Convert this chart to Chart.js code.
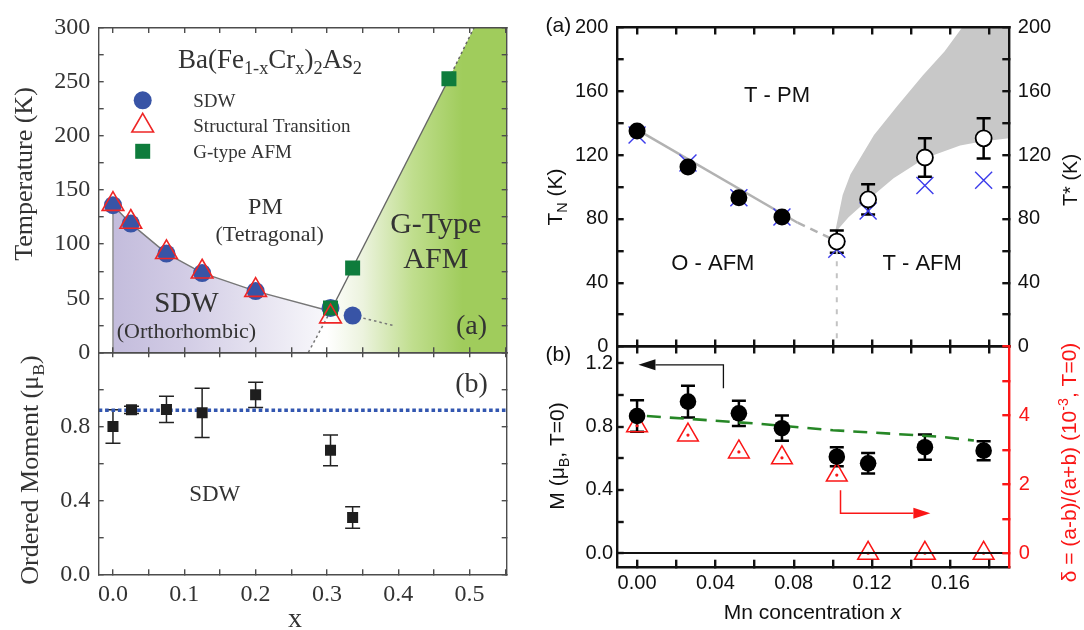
<!DOCTYPE html>
<html>
<head>
<meta charset="utf-8">
<title>Phase diagrams</title>
<script src="https://cdn.jsdelivr.net/npm/chart.js@4.4.0/dist/chart.umd.min.js"></script>
<style>
  html, body { margin: 0; padding: 0; background: #fff; }
  #fig { position: relative; width: 1084px; height: 630px; overflow: hidden; background: #fff; }
  #fig canvas { position: absolute; left: 0; top: 0; }
</style>
</head>
<body>
<div id="fig">
  <canvas id="crPhase" width="1084" height="630"></canvas>
  <canvas id="crMoment" width="1084" height="630"></canvas>
  <canvas id="mnPhase" width="1084" height="630"></canvas>
  <canvas id="mnMoment" width="1084" height="630"></canvas>
</div>
<script>
// ---- Ba(Fe1-xCrx)2As2 (left column) ----
const crRange    = [-0.02, 0.552];
const crX        = [0, 0.025, 0.075, 0.125, 0.2, 0.305, 0.336];
const crSdwT     = [136, 119, 91.3, 73.3, 56.6, 41, 34];
const crStructX  = [0, 0.025, 0.075, 0.125, 0.2, 0.305];
const crStructT  = [137, 120.5, 92.5, 74.5, 57.5, 33];
const crGafmX    = [0.305, 0.336, 0.471];
const crGafmT    = [41, 78, 253];

// phase boundaries
const sdwEdgeX   = [0, 0.025, 0.075, 0.125, 0.2, 0.305];
const sdwEdgeT   = [136, 119, 91.5, 73.5, 56.5, 38];
const sdwFootX   = [0.274, 0.305];
const sdwFootT   = [0, 38];
const sdwTailX   = [0.336, 0.395];
const sdwTailT   = [34, 24.5];
const gafmEdgeX  = [0.305, 0.471];
const gafmEdgeT  = [38, 253];
const gafmExtX   = [0.471, 0.506];
const gafmExtT   = [253, 300];

const crMomX     = [0, 0.026, 0.075, 0.125, 0.2, 0.305, 0.336];
const crMoment   = [0.799, 0.889, 0.891, 0.873, 0.970, 0.670, 0.307];
const crMomErr   = [0.09, 0.02, 0.071, 0.133, 0.068, 0.083, 0.058];
const crMomAvg   = 0.887;

// ---- Mn doped (right column) ----
const mnRange    = [-0.0104, 0.1901];
const mnX        = [0, 0.026, 0.052, 0.074, 0.102, 0.118, 0.147, 0.177];
const tnX        = [0, 0.026, 0.052, 0.074];
const tnT        = [135.1, 112.5, 93.2, 81.2];
const tStarX     = [0.102, 0.118, 0.147, 0.177];
const tStarT     = [65.8, 92.2, 118.5, 130.5];
const tStarErr   = [7, 9.5, 12, 12.6];
const tCross     = [132.6, 115, 93.2, 81.2, 61, 85, 101, 104.2];
const tnLineX    = [0, 0.082];
const tnLineT    = [136, 77.6];
const tnDashX    = [0.082, 0.102];
const tnDashT    = [77.6, 66];
const bandX      = [0.101, 0.105, 0.109, 0.121, 0.133, 0.146, 0.157, 0.166, 0.2, 0.2, 0.19, 0.176, 0.165, 0.147, 0.131, 0.118, 0.108, 0.102];
const bandT      = [71, 95, 108, 132.6, 151, 170, 185, 200, 200, 131, 130.5, 128.5, 126, 118, 105.5, 92, 81, 72.5];

const mnMoment   = [0.867, 0.958, 0.884, 0.79, 0.61, 0.568, 0.67, 0.648];
const mnMomErr   = [0.1, 0.1, 0.08, 0.08, 0.06, 0.065, 0.08, 0.06];
const mnDelta    = [3.7, 3.43, 2.94, 2.77, 2.27, 0, 0, 0];
const trendX     = [0.005, 0.06, 0.1, 0.13, 0.155, 0.172];
const trendM     = [0.867, 0.82, 0.777, 0.755, 0.736, 0.712];

const SERIF = "'Liberation Serif', 'Times New Roman', serif";
const SANS  = "'Liberation Sans', Arial, sans-serif";
const W = 1084, H = 630;
const RED = 'rgb(250,22,22)';

function pts(xs, ys) { return xs.map((x, i) => ({ x: x, y: ys[i] })); }
function isStep(v, s) { return Math.abs(v / s - Math.round(v / s)) < 1e-6; }

// inward ticks: negative tick length; axis boxes get a fixed size (labels are clipped to it)
function axis(pos, range, step, st, fmt, gap, box, gridExtra) {
  const size = box || 0;
  return {
    type: 'linear', position: pos, min: range[0], max: range[1],
    afterFit: s => { if (s.isHorizontal()) s.height = size; else s.width = size; },
    border: { display: true, color: st.color, width: st.width, z: 1 },
    grid: Object.assign({ drawOnChartArea: false, drawTicks: true, tickLength: -st.tick,
            tickColor: st.color, tickWidth: st.width, lineWidth: st.width, z: 1 }, gridExtra || {}),
    ticks: { display: !!fmt, stepSize: step, includeBounds: false, autoSkip: false,
             maxTicksLimit: 500, maxRotation: 0, minRotation: 0,
             padding: (gap || 0) + st.tick, font: st.font, color: st.text,
             callback: fmt || (() => '') }
  };
}

// area = chart area [left, top, right, bottom]; boxes = axis sizes on each side
function baseOptions(area, boxes, scales) {
  return {
    responsive: false, animation: false, events: [],
    layout: { padding: { left: area[0] - (boxes.left || 0), top: area[1] - (boxes.top || 0),
                         right: W - area[2] - (boxes.right || 0), bottom: H - area[3] - (boxes.bottom || 0) } },
    scales: scales,
    plugins: { legend: { display: false }, tooltip: { enabled: false },
               filler: { drawTime: 'beforeDatasetsDraw' } }
  };
}

function region(xs, ys, color) {
  return { data: pts(xs, ys), showLine: true, fill: 'shape', backgroundColor: color,
           borderWidth: 0, borderColor: 'rgba(0,0,0,0)', pointRadius: 0, order: 20 };
}
function path(xs, ys, color, width, dash) {
  return { data: pts(xs, ys), showLine: true, fill: false, borderColor: color, borderWidth: width,
           borderDash: dash || [], pointRadius: 0, order: 10 };
}
function hGrad(stops) {
  return c => {
    const ch = c.chart;
    if (!ch.chartArea) return 'rgba(0,0,0,0)';
    const xs = ch.scales.x;
    const x0 = stops[0][0], x1 = stops[stops.length - 1][0];
    const g = ch.ctx.createLinearGradient(xs.getPixelForValue(x0), 0, xs.getPixelForValue(x1), 0);
    stops.forEach(s => g.addColorStop((s[0] - x0) / (x1 - x0), s[1]));
    return g;
  };
}

// text with sub/superscripts
function richText(ctx, parts, x, y, o) {
  const size = o.size, fam = o.family;
  const list = typeof parts === 'string' ? [[parts]] : parts;
  const segs = list.map(p => {
    const kind = p[1] || '';
    const small = kind === 'sub' || kind === 'sup';
    const font = (kind === 'i' ? 'italic ' : '') + (small ? size * 0.68 : size) + 'px ' + fam;
    ctx.font = font;
    return { t: p[0], font: font, w: ctx.measureText(p[0]).width,
             dy: kind === 'sub' ? size * 0.24 : kind === 'sup' ? -size * 0.4 : 0 };
  });
  const total = segs.reduce((a, s) => a + s.w, 0);
  ctx.save();
  ctx.translate(x, y);
  if (o.rotate) ctx.rotate(o.rotate);
  ctx.fillStyle = o.color;
  ctx.textBaseline = 'alphabetic';
  ctx.textAlign = 'left';
  const base = o.baseline === 'alphabetic' ? 0 : size * 0.35;
  let cx = o.align === 'left' ? 0 : o.align === 'right' ? -total : -total / 2;
  segs.forEach(s => { ctx.font = s.font; ctx.fillText(s.t, cx, base + s.dy); cx += s.w; });
  ctx.restore();
}

function textLayer(items, defaults) {
  return {
    id: 'texts',
    afterDatasetsDraw(chart) {
      items.forEach(it0 => {
        const it = Object.assign({}, defaults, it0);
        let x = it.px, y = it.py;
        if (x === undefined) {
          x = chart.scales[it.xAxis || 'x'].getPixelForValue(it.x);
          y = chart.scales[it.yAxis || 'y'].getPixelForValue(it.y);
        }
        richText(chart.ctx, it.text, x, y, it);
      });
    }
  };
}

const errorBars = {
  id: 'errorBars',
  beforeDatasetsDraw(chart) {
    const ctx = chart.ctx;
    chart.data.datasets.forEach((ds, i) => {
      if (!ds.errorBars) return;
      const meta = chart.getDatasetMeta(i);
      const ys = chart.scales[meta.yAxisID];
      const st = ds.errorStyle;
      ctx.save();
      ctx.strokeStyle = st.color;
      ctx.lineWidth = st.width;
      meta.data.forEach((el, j) => {
        const v = ds.data[j].y, e = ds.errorBars[j];
        const top = ys.getPixelForValue(v + e), bot = ys.getPixelForValue(v - e);
        ctx.beginPath();
        ctx.moveTo(el.x, top); ctx.lineTo(el.x, bot);
        ctx.moveTo(el.x - st.cap / 2, top); ctx.lineTo(el.x + st.cap / 2, top);
        ctx.moveTo(el.x - st.cap / 2, bot); ctx.lineTo(el.x + st.cap / 2, bot);
        ctx.stroke();
      });
      ctx.restore();
    });
  }
};

// ===== left top: phase diagram =====
const frameL = { color: '#4d4d4d', width: 1.4, tick: 5, font: { family: SERIF, size: 24 }, text: '#333' };

const sdwSet = { label: 'SDW', data: pts(crX, crSdwT), pointStyle: 'circle', pointRadius: 9,
  pointBackgroundColor: 'rgb(56,84,166)', pointBorderColor: 'rgb(56,84,166)', pointBorderWidth: 0, order: 4 };
const structSet = { label: 'Structural Transition', data: pts(crStructX, crStructT), pointStyle: 'triangle',
  pointRadius: 12.5, pointBackgroundColor: 'rgba(0,0,0,0)', pointBorderColor: 'rgb(238,38,38)',
  pointBorderWidth: 1.6, order: 2 };
const gafmSet = { label: 'G-type AFM', data: pts(crGafmX, crGafmT), pointStyle: 'rect', pointRadius: 10.6,
  pointBackgroundColor: 'rgb(14,124,60)', pointBorderColor: 'rgb(14,124,60)', pointBorderWidth: 0, order: 3 };
const legendSets = [sdwSet, structSet, gafmSet];

const phaseLegend = {
  id: 'phaseLegend',
  afterDatasetsDraw(chart) {
    const ctx = chart.ctx, a = chart.chartArea;
    legendSets.forEach((ds, i) => {
      const x = a.left + 44, y = a.top + 72.4 + i * 25.5;
      ctx.save();
      ctx.fillStyle = ds.pointBackgroundColor;
      ctx.strokeStyle = ds.pointBorderColor;
      ctx.lineWidth = ds.pointBorderWidth;
      Chart.helpers.drawPoint(ctx, { pointStyle: ds.pointStyle, radius: ds.pointRadius,
        borderWidth: ds.pointBorderWidth, rotation: 0 }, x, y);
      ctx.restore();
      richText(ctx, ds.label, a.left + 94.6, y, { size: 19, family: SERIF, color: '#333', align: 'left' });
    });
  }
};

const purpleX = [0].concat(sdwEdgeX, [sdwFootX[0]]);
const purpleT = [0].concat(sdwEdgeT, [0]);
const greenX = [sdwFootX[0]].concat(gafmEdgeX, [gafmExtX[1], 0.6, 0.6]);
const greenT = [0].concat(gafmEdgeT, [gafmExtT[1], 300, 0]);

new Chart(document.getElementById('crPhase'), {
  type: 'scatter',
  data: { datasets: [
    region(purpleX, purpleT, hGrad([[0, 'rgb(195,188,220)'], [0.1, 'rgb(210,204,229)'],
                                    [0.2, 'rgb(229,226,240)'], [0.31, 'rgb(250,250,252)']])),
    region(greenX, greenT, hGrad([[0.3, 'rgb(255,255,255)'], [0.35, 'rgb(236,243,222)'],
                                  [0.42, 'rgb(192,222,142)'], [0.49, 'rgb(160,204,92)']])),
    path([0, 0], [0, sdwEdgeT[0]], '#8a8a8a', 1.4),
    path(sdwEdgeX, sdwEdgeT, '#777', 1.4),
    path(sdwFootX, sdwFootT, '#777', 1.5, [2.5, 3]),
    path(sdwTailX, sdwTailT, '#777', 1.5, [2.5, 3]),
    path(gafmEdgeX, gafmEdgeT, '#666', 1.4),
    path(gafmExtX, gafmExtT, '#666', 1.5, [2.5, 3]),
    sdwSet, gafmSet, structSet
  ] },
  options: baseOptions([98.7, 18.3, 506.7, 352.3], { left: 80 }, {
    x:  axis('bottom', crRange, 0.05, frameL),
    x2: axis('top', crRange, 0.05, frameL),
    y:  axis('left', [0, 300], 25, frameL, v => isStep(v, 50) ? String(v) : '', 8.5, 80),
    y2: axis('right', [0, 300], 25, frameL)
  }),
  plugins: [phaseLegend, textLayer([
    { text: [['Ba(Fe'], ['1-x', 'sub'], ['Cr'], ['x', 'sub'], [')'], ['2', 'sub'], ['As'], ['2', 'sub']],
      x: 0.22, y: 263.3, size: 27, baseline: 'alphabetic' },
    { text: 'PM', x: 0.2137, y: 135.3, size: 24 },
    { text: '(Tetragonal)', x: 0.2198, y: 109.9, size: 22 },
    { text: 'SDW', x: 0.103, y: 47, size: 29 },
    { text: '(Orthorhombic)', x: 0.103, y: 20, size: 22 },
    { text: 'G-Type', x: 0.4526, y: 120.4, size: 30 },
    { text: 'AFM', x: 0.4526, y: 87.4, size: 30 },
    { text: '(a)', x: 0.5027, y: 26, size: 28 },
    { text: 'Temperature (K)', px: 23, py: 174, size: 26, rotate: -Math.PI / 2 }
  ], { family: SERIF, color: '#333' })]
});

// ===== left bottom: ordered moment =====
new Chart(document.getElementById('crMoment'), {
  type: 'scatter',
  data: { datasets: [
    path(crRange, [crMomAvg, crMomAvg], 'rgb(50,86,176)', 3.6, [3.6, 2.8]),
    { data: pts(crMomX, crMoment), pointStyle: 'rect', pointRadius: 7.8,
      pointBackgroundColor: '#1e1e1e', pointBorderColor: '#1e1e1e', pointBorderWidth: 0, order: 1,
      errorBars: crMomErr, errorStyle: { color: '#222', width: 1.5, cap: 15 } }
  ] },
  options: baseOptions([98.7, 352.3, 506.7, 574.3], { left: 80, bottom: 50 }, {
    x:  axis('bottom', crRange, 0.05, frameL, v => isStep(v, 0.1) ? v.toFixed(1) : '', 6.3, 50),
    x2: axis('top', crRange, 0.05, frameL),
    y:  axis('left', [0, 1.2], 0.2, frameL, v => (isStep(v, 0.4) && v < 1.1) ? v.toFixed(1) : '', 8.5, 80),
    y2: axis('right', [0, 1.2], 0.2, frameL)
  }),
  plugins: [errorBars, textLayer([
    { text: 'SDW', x: 0.1426, y: 0.44, size: 23 },
    { text: '(b)', x: 0.5027, y: 1.038, size: 28 },
    { text: [['Ordered Moment (\u03bc'], ['B', 'sub'], [')']], px: 29, py: 470, size: 26, rotate: -Math.PI / 2 },
    { text: 'x', px: 295, py: 626.5, size: 28, baseline: 'alphabetic' }
  ], { family: SERIF, color: '#333' })]
});

// ===== right top: T_N and T* =====
const frameR = { color: '#111', width: 2.4, tick: 7, font: { family: SANS, size: 20 }, text: '#111' };
const frameRed = { color: RED, width: 2.4, tick: 7, font: { family: SANS, size: 20 }, text: RED };

new Chart(document.getElementById('mnPhase'), {
  type: 'scatter',
  data: { datasets: [
    region(bandX, bandT, 'rgb(200,200,200)'),
    path(tnLineX, tnLineT, 'rgb(178,178,178)', 2.5),
    path(tnDashX, tnDashT, 'rgb(178,178,178)', 2.5, [8, 6]),
    path([mnX[4], mnX[4]], [tCross[4], 0], 'rgb(195,195,195)', 2, [5, 7]),
    { data: pts(mnX, tCross), pointStyle: 'crossRot', pointRadius: 12, pointBorderColor: 'rgb(60,60,235)',
      pointBackgroundColor: 'rgba(0,0,0,0)', pointBorderWidth: 1.4, order: 5 },
    { data: pts(tnX, tnT), pointStyle: 'circle', pointRadius: 8.5, pointBackgroundColor: '#000',
      pointBorderColor: '#000', pointBorderWidth: 0, order: 2 },
    { data: pts(tStarX, tStarT), pointStyle: 'circle', pointRadius: 8, pointBackgroundColor: '#fff',
      pointBorderColor: '#000', pointBorderWidth: 1.8, order: 1,
      errorBars: tStarErr, errorStyle: { color: '#000', width: 2.5, cap: 14 } }
  ] },
  options: baseOptions([616.7, 25, 1009.3, 346.5], { left: 60, right: 60 }, {
    x:  axis('bottom', mnRange, 0.02, frameR),
    x2: axis('top', mnRange, 0.02, frameR),
    y:  axis('left', [0, 200], 20, frameR, v => isStep(v, 40) ? String(v) : '', 8.4, 60),
    y2: axis('right', [0, 200], 20, frameR, v => isStep(v, 40) ? String(v) : '', 8.5, 60)
  }),
  plugins: [errorBars, textLayer([
    { text: 'T - PM', x: 0.0715, y: 157.9, size: 22 },
    { text: 'O - AFM', x: 0.0387, y: 52.7, size: 22 },
    { text: 'T - AFM', x: 0.1456, y: 52.7, size: 22 },
    { text: '(a)', px: 558.3, py: 25, size: 21 },
    { text: [['T'], ['N', 'sub'], [' (K)']], px: 555, py: 197, size: 21, rotate: -Math.PI / 2 },
    { text: 'T* (K)', px: 1070.3, py: 180, size: 20, rotate: -Math.PI / 2 }
  ], { family: SANS, color: '#111' })]
});

// ===== right bottom: moment and distortion =====
const arrowsD = [
  { pts: [[0.0441, 1.042], [0.0441, 1.19], [0.0007, 1.19]], yAxis: 'y', color: '#111', width: 1.3 },
  { pts: [[0.1039, 1.83], [0.1039, 1.16], [0.1498, 1.16]], yAxis: 'yd', color: RED, width: 1.5 }
];
const arrowLayer = {
  id: 'arrows',
  afterDatasetsDraw(chart) {
    const ctx = chart.ctx, xs = chart.scales.x;
    arrowsD.forEach(a => {
      const ys = chart.scales[a.yAxis];
      const p = a.pts.map(q => [xs.getPixelForValue(q[0]), ys.getPixelForValue(q[1])]);
      const n = p.length, tip = p[n - 1], prev = p[n - 2];
      const ang = Math.atan2(tip[1] - prev[1], tip[0] - prev[0]);
      const len = 17, half = 5.5;
      const bx = tip[0] - Math.cos(ang) * len, by = tip[1] - Math.sin(ang) * len;
      ctx.save();
      ctx.strokeStyle = a.color; ctx.fillStyle = a.color; ctx.lineWidth = a.width;
      ctx.beginPath();
      ctx.moveTo(p[0][0], p[0][1]);
      for (let i = 1; i < n - 1; i++) ctx.lineTo(p[i][0], p[i][1]);
      ctx.lineTo(bx, by);
      ctx.stroke();
      ctx.beginPath();
      ctx.moveTo(tip[0], tip[1]);
      ctx.lineTo(bx + Math.sin(ang) * half, by - Math.cos(ang) * half);
      ctx.lineTo(bx - Math.sin(ang) * half, by + Math.cos(ang) * half);
      ctx.closePath();
      ctx.fill();
      ctx.restore();
    });
  }
};

const zeroLine = {
  drawOnChartArea: true,
  color: c => (c.tick && c.tick.value === 0) ? '#111' : 'rgba(0,0,0,0)',
  lineWidth: 2
};

new Chart(document.getElementById('mnMoment'), {
  type: 'scatter',
  data: { datasets: [
    Object.assign(path(trendX, trendM, 'rgb(38,135,38)', 2.6, [14, 9]), { order: 6 }),
    { data: pts(mnX, mnDelta), yAxisID: 'yd', pointStyle: 'triangle', pointRadius: 12,
      pointBackgroundColor: 'rgba(0,0,0,0)', pointBorderColor: RED, pointBorderWidth: 1.5, order: 4 },
    { data: pts(mnX, mnDelta), yAxisID: 'yd', pointStyle: 'circle', pointRadius: 1.6,
      pointBackgroundColor: RED, pointBorderColor: RED, pointBorderWidth: 0, order: 3 },
    { data: pts(mnX, mnMoment), pointStyle: 'circle', pointRadius: 8.3, pointBackgroundColor: '#000',
      pointBorderColor: '#000', pointBorderWidth: 0, order: 1,
      errorBars: mnMomErr, errorStyle: { color: '#000', width: 2.5, cap: 14 } }
  ] },
  options: baseOptions([616.7, 346.5, 1009.3, 566.7], { left: 60, right: 60, bottom: 40 }, {
    x:  axis('bottom', mnRange, 0.02, frameR, v => isStep(v, 0.04) ? v.toFixed(2) : '', 4.6, 40),
    x2: axis('top', mnRange, 0.02, frameR),
    y:  axis('left', [-0.085, 1.306], 0.2, frameR, v => isStep(v, 0.4) ? v.toFixed(1) : '', 3.5, 60, zeroLine),
    yd: axis('right', [-0.39, 6.0], 1, frameRed, v => (isStep(v, 2) && v < 5) ? String(v) : '', 9.5, 60)
  }),
  plugins: [errorBars, arrowLayer, textLayer([
    { text: '(b)', px: 558.3, py: 353.3, size: 21 },
    { text: [['M (\u03bc'], ['B', 'sub'], [', T=0)']], px: 556.7, py: 456, size: 21, rotate: -Math.PI / 2 },
    { text: [['\u03b4 = (a-b)/(a+b) (10'], ['-3', 'sup'], [', T=0)']], px: 1068.7, py: 462.5, size: 21,
      rotate: -Math.PI / 2, color: RED },
    { text: [['Mn concentration '], ['x', 'i']], px: 812.5, py: 611.7, size: 21 }
  ], { family: SANS, color: '#111' })]
});
</script>
</body>
</html>
